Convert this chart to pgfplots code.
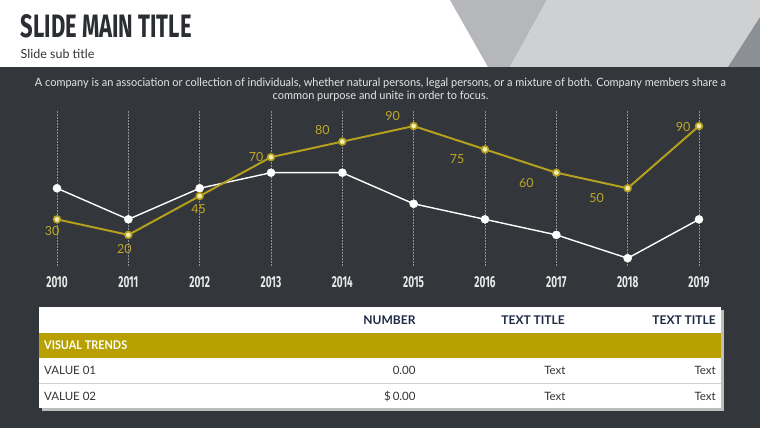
\documentclass[border=0pt]{standalone}
\usepackage{pgfplots}
\pgfplotsset{compat=1.18}
\usepackage{pgfplotstable}
\usepackage{graphicx}
\usepackage{fontspec}
\setmainfont{Lato}
\newfontfamily\fira{Fira Sans}

\definecolor{bg}{HTML}{33363A}
\definecolor{gold}{RGB}{180,160,30}
\definecolor{goldtxt}{RGB}{190,168,40}
\definecolor{goldfill}{RGB}{242,236,175}
\definecolor{goldrow}{RGB}{183,160,0}
\definecolor{navy}{HTML}{1E2A45}
\definecolor{titlec}{HTML}{2A2D31}
\definecolor{polyA}{HTML}{B5B7BA}
\definecolor{polyB}{HTML}{CED0D2}
\definecolor{polyC}{HTML}{8C9094}
\definecolor{gridc}{HTML}{8E9195}
\definecolor{yearc}{HTML}{E8E8E8}
\definecolor{desc}{HTML}{E6E6E6}
\definecolor{rowtxt}{HTML}{333333}
\definecolor{shadowc}{HTML}{BDBDBD}
\definecolor{sepc}{HTML}{CFCFCF}

\newcommand{\yr}[1]{\resizebox{!}{11pt}{\scalebox{0.63}[1]{\fira\bfseries #1}}}

\pgfplotstableread{
x y
0 50
1 30
2 50
3 60
4 60
5 40
6 30
7 20
8 5
9 30
}\whitedata

\pgfplotstableread{
x y dx dy
0 30 -5 -12
1 20 -4 -14
2 45 -1 -13
3 70 -15 0
4 80 -20 12
5 90 -21 10
6 75 -28 -10
7 60 -30 -10
8 50 -31 -10
9 90 -16 -1
}\golddata

\begin{document}
\begin{tikzpicture}[x=1pt,y=1pt]
\fill[white] (0,0) rectangle (760,428);
\fill[bg] (0,0) rectangle (760,361);
% header polygons
\fill[polyA] (450,428) -- (547,428) -- (510,361) -- (488,361) -- cycle;
\fill[polyB] (547,428) -- (760,428) -- (760,411) -- (728,361) -- (510,361) -- cycle;
\fill[polyC] (760,411) -- (760,361) -- (728,361) -- cycle;
% titles
\node[anchor=south west, inner sep=0pt, text=titlec] at (20.5,389.7)
  {\resizebox{171pt}{23pt}{\fira\bfseries SLIDE MAIN TITLE}};
\node[anchor=base west, inner sep=0pt, text=rowtxt, font=\fontsize{12.5}{14}\selectfont] at (20.5,369.7) {Slide sub title};
% description
\node[anchor=base, inner sep=0pt, text=desc, font=\fontsize{11.5}{13}\selectfont] at (380.5,341.3)
  {\resizebox{691pt}{\height}{A company is an association or collection of individuals, whether natural persons, legal persons, or a mixture of both. Company members share a}};
\node[anchor=base, inner sep=0pt, text=desc, font=\fontsize{11.5}{13}\selectfont] at (380.5,328.7)
  {\resizebox{215.6pt}{\height}{common purpose and unite in order to focus.}};

\begin{axis}[
  at={(57pt,162pt)}, anchor=south west,
  width=642pt, height=155.5pt, scale only axis,
  xmin=0, xmax=9, ymin=0, ymax=100,
  clip=false,
  axis line style={draw=none},
  major tick style={draw=none},
  ytick=\empty,
  xtick={0,...,9},
  xticklabels={\yr{2010},\yr{2011},\yr{2012},\yr{2013},\yr{2014},\yr{2015},\yr{2016},\yr{2017},\yr{2018},\yr{2019}},
  xticklabel style={text=yearc, inner sep=0pt, anchor=north, yshift=-10.5pt},
  xmajorgrids,
  grid style={gridc, dash pattern=on 1.5pt off 1.5pt, line width=0.6pt},
]
\addplot[white, line width=1.4pt, mark=*, mark size=4pt, mark options={fill=white, draw=white, line width=0.5pt}]
  table[x=x, y=y] {\whitedata};
\addplot[gold, line width=2pt, mark=*, mark size=3.4pt,
  mark options={fill=goldfill, draw=gold, line width=1.6pt},
  /pgf/number format/assume math mode=true,
  visualization depends on={\thisrow{dx} \as \dx},
  visualization depends on={\thisrow{dy} \as \dy},
  nodes near coords,
  every node near coord/.append style={anchor=center, inner sep=0pt, xshift=\dx pt, yshift=\dy pt, text=goldtxt, font=\fontsize{12.5}{14}\selectfont},
  ]
  table[x=x, y=y] {\golddata};
\end{axis}

% table
\fill[shadowc] (42,17) rectangle (724,118);
\fill[white] (39,19.7) rectangle (721,120.7);
\fill[goldrow] (39,70.3) rectangle (721,95.3);
\draw[sepc, line width=0.8pt] (39,44.7) -- (721,44.7);
\begin{scope}[every node/.style={inner sep=0pt}]
\node[anchor=base east, text=navy, font=\fontsize{12}{14}\selectfont\bfseries] at (415.7,103.3) {NUMBER};
\node[anchor=base east, text=navy, font=\fontsize{12}{14}\selectfont\bfseries] at (565,103.3) {TEXT TITLE};
\node[anchor=base east, text=navy, font=\fontsize{12}{14}\selectfont\bfseries] at (716,103.3) {TEXT TITLE};
\node[anchor=base west, text=white, font=\fontsize{12}{14}\selectfont\bfseries] at (44,78) {\resizebox{83pt}{\height}{VISUAL TRENDS}};
\node[anchor=base west, text=rowtxt, font=\fontsize{11.5}{14}\selectfont] at (44,53) {VALUE 01};
\node[anchor=base east, text=rowtxt, font=\fontsize{11.5}{14}\selectfont] at (415.7,53) {0.00};
\node[anchor=base east, text=rowtxt, font=\fontsize{11.5}{14}\selectfont] at (565.7,53) {Text};
\node[anchor=base east, text=rowtxt, font=\fontsize{11.5}{14}\selectfont] at (716,53) {Text};
\node[anchor=base west, text=rowtxt, font=\fontsize{11.5}{14}\selectfont] at (44,27.3) {VALUE 02};
\node[anchor=base east, text=rowtxt, font=\fontsize{11.5}{14}\selectfont] at (415.7,27.3) {\$\,0.00};
\node[anchor=base east, text=rowtxt, font=\fontsize{11.5}{14}\selectfont] at (565.7,27.3) {Text};
\node[anchor=base east, text=rowtxt, font=\fontsize{11.5}{14}\selectfont] at (716,27.3) {Text};
\end{scope}
\end{tikzpicture}
\end{document}
